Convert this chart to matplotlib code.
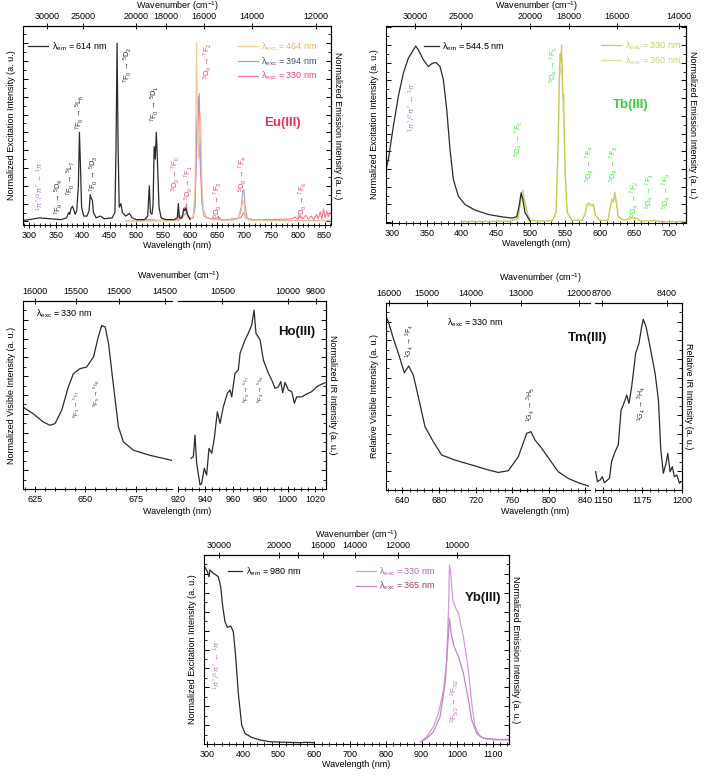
import matplotlib
matplotlib.use('Agg')
import matplotlib.pyplot as plt
import numpy as np
from matplotlib.ticker import MultipleLocator, NullLocator
from matplotlib.lines import Line2D

plt.rcParams['font.family'] = ['Liberation Sans', 'DejaVu Sans']
plt.rcParams['mathtext.fontset'] = 'custom'
plt.rcParams['mathtext.rm'] = 'Liberation Sans'
plt.rcParams['mathtext.it'] = 'Liberation Sans:italic'
plt.rcParams['mathtext.bf'] = 'Liberation Sans:bold'
plt.rcParams['font.size'] = 6.5
plt.rcParams['axes.linewidth'] = 0.8

# ---------------- data (wavelength nm, normalized intensity) ----------------
eu_exc = [(289, 0.005), (300, 0.01), (320, 0.02), (340, 0.015), (360, 0.01), (370, 0.02),
          (374, 0.05), (376, 0.04), (378, 0.07), (381, 0.085), (383, 0.07), (386, 0.04),
          (389, 0.06), (392, 0.2), (394, 0.5), (396, 0.3), (398, 0.08), (402, 0.03),
          (408, 0.03), (412, 0.06), (414, 0.15), (416, 0.13), (418, 0.12), (420, 0.05),
          (425, 0.02), (433, 0.03), (440, 0.015), (455, 0.02), (460, 0.05), (462, 0.4),
          (464, 1.0), (466, 0.4), (468, 0.08), (471, 0.1), (474, 0.05), (480, 0.03),
          (487, 0.045), (492, 0.02), (500, 0.01), (515, 0.01), (521, 0.03), (524, 0.2),
          (526, 0.05), (529, 0.04), (531, 0.1), (533, 0.42), (535, 0.35), (537, 0.5),
          (539, 0.35), (542, 0.08), (546, 0.02), (555, 0.01), (570, 0.01), (576, 0.02),
          (578, 0.1), (580, 0.02), (585, 0.02), (588, 0.07), (590, 0.06), (592, 0.075),
          (595, 0.04), (600, 0.01)]
eu_em464 = [(480, 0.004), (500, 0.004), (540, 0.005), (575, 0.006), (579, 0.02), (581, 0.006),
            (588, 0.03), (591, 0.04), (594, 0.03), (600, 0.01), (606, 0.03), (609, 0.2),
            (611, 0.75), (612, 1.0), (613, 0.7), (615, 0.35), (617, 0.45), (619, 0.6),
            (620, 0.5), (622, 0.2), (625, 0.06), (630, 0.02), (645, 0.008), (650, 0.015),
            (653, 0.008), (660, 0.005), (680, 0.008), (690, 0.02), (695, 0.06), (698, 0.12),
            (700, 0.1), (702, 0.04), (705, 0.02), (712, 0.006), (750, 0.004), (800, 0.004),
            (862, 0.004)]
eu_em394 = [(480, 0.003), (540, 0.004), (578, 0.005), (580, 0.03), (588, 0.03), (592, 0.05),
            (596, 0.02), (605, 0.02), (609, 0.1), (611, 0.35), (613, 0.6), (615, 0.65),
            (617, 0.72), (618, 0.55), (620, 0.3), (623, 0.08), (630, 0.02), (650, 0.01),
            (653, 0.02), (660, 0.006), (690, 0.02), (695, 0.08), (698, 0.17), (700, 0.18),
            (702, 0.09), (706, 0.02), (720, 0.006), (800, 0.005), (862, 0.005)]
eu_em330 = [(500, 0.005), (520, 0.012), (540, 0.006), (560, 0.01), (577, 0.008), (579, 0.05),
            (581, 0.01), (587, 0.04), (589, 0.08), (591, 0.06), (593, 0.1), (595, 0.03),
            (600, 0.015), (606, 0.02), (609, 0.08), (611, 0.3), (613, 0.55), (615, 0.7),
            (617, 0.45), (619, 0.3), (622, 0.1), (626, 0.03), (640, 0.012), (650, 0.02),
            (652, 0.03), (655, 0.01), (680, 0.008), (694, 0.02), (698, 0.04), (700, 0.05),
            (703, 0.02), (710, 0.008), (740, 0.01), (770, 0.012), (790, 0.015), (795, 0.025),
            (800, 0.01), (805, 0.03), (810, 0.015), (815, 0.035), (820, 0.012), (825, 0.03),
            (830, 0.01), (835, 0.04), (838, 0.015), (842, 0.055), (845, 0.012), (848, 0.07),
            (851, 0.02), (854, 0.06), (857, 0.025), (861, 0.05)]

tb_exc = [(290.6, 0.287), (294.4, 0.353), (301.6, 0.54), (308.8, 0.709), (316.1, 0.841),
          (323.3, 0.925), (329.1, 0.962), (334.0, 0.994), (337.8, 0.972), (345.0, 0.916),
          (352.2, 0.878), (358.1, 0.897), (363.4, 0.901), (369.2, 0.878), (374.0, 0.803),
          (378.9, 0.634), (383.6, 0.409), (388.5, 0.24), (395.7, 0.146), (405.4, 0.099),
          (419.8, 0.068), (439.1, 0.043), (458.4, 0.03), (472.9, 0.023), (480.1, 0.03),
          (483.5, 0.09), (486.5, 0.165), (488.8, 0.13), (492.2, 0.053), (499.4, 0.006)]
tb_em330 = [(400, 0.004), (440, 0.004), (470, 0.006), (482, 0.02), (485, 0.1), (487, 0.16),
            (489, 0.18), (491, 0.13), (493, 0.1), (496, 0.04), (500, 0.01), (520, 0.006),
            (532, 0.01), (537, 0.06), (540, 0.45), (542, 0.88), (543, 0.95), (544, 0.9),
            (545, 1.0), (546, 0.85), (547, 0.7), (548, 0.72), (550, 0.3), (553, 0.06),
            (560, 0.01), (575, 0.01), (579, 0.05), (582, 0.1), (584, 0.11), (586, 0.1),
            (589, 0.095), (591, 0.1), (594, 0.04), (600, 0.01), (612, 0.01), (616, 0.1),
            (618, 0.13), (620, 0.12), (622, 0.17), (624, 0.12), (627, 0.03), (635, 0.01),
            (643, 0.02), (646, 0.028), (650, 0.022), (654, 0.022), (658, 0.008), (665, 0.006),
            (668, 0.01), (672, 0.006), (680, 0.01), (684, 0.004), (700, 0.003), (725, 0.003)]
tb_em360 = [(400, 0.003), (440, 0.004), (470, 0.005), (482, 0.018), (485, 0.09), (487, 0.14),
            (489, 0.15), (491, 0.12), (493, 0.09), (496, 0.035), (500, 0.01), (520, 0.006),
            (532, 0.01), (537, 0.05), (540, 0.42), (542, 0.8), (543, 0.88), (544, 0.84),
            (545, 0.93), (546, 0.8), (547, 0.66), (548, 0.6), (550, 0.28), (553, 0.05),
            (560, 0.01), (575, 0.01), (579, 0.045), (582, 0.09), (584, 0.1), (586, 0.095),
            (589, 0.09), (591, 0.095), (594, 0.035), (600, 0.01), (612, 0.01), (616, 0.09),
            (618, 0.12), (620, 0.11), (622, 0.15), (624, 0.11), (627, 0.03), (635, 0.01),
            (643, 0.018), (646, 0.025), (650, 0.02), (654, 0.02), (658, 0.007), (665, 0.005),
            (668, 0.009), (672, 0.005), (680, 0.009), (684, 0.004), (700, 0.003), (725, 0.003)]

ho_vis = [(619.0, 0.436), (624.1, 0.40), (629.1, 0.356), (632.4, 0.339), (634.9, 0.348),
          (638.2, 0.418), (641.5, 0.543), (644.0, 0.613), (647.3, 0.640), (650.6, 0.649),
          (654.0, 0.702), (656.4, 0.809), (658.1, 0.870), (659.8, 0.862), (661.5, 0.773),
          (664.0, 0.543), (666.4, 0.330), (668.9, 0.250), (673.9, 0.206), (682.1, 0.179),
          (693.1, 0.152)]
ho_ir = [(929.5, 0.163), (931.2, 0.172), (932.4, 0.287), (933.6, 0.137), (936.1, 0.021),
         (937.3, 0.03), (939.2, 0.11), (940.9, 0.074), (942.6, 0.216), (944.6, 0.19),
         (946.5, 0.27), (948.7, 0.411), (950.7, 0.349), (953.1, 0.438), (956.0, 0.509),
         (958.0, 0.527), (959.2, 0.49), (961.6, 0.615), (964.0, 0.633), (965.3, 0.722),
         (968.9, 0.793), (971.3, 0.828), (973.8, 0.872), (975.5, 0.952), (976.9, 0.828),
         (979.9, 0.793), (982.3, 0.686), (986.0, 0.615), (988.4, 0.58), (990.8, 0.535),
         (993.2, 0.544), (995.0, 0.571), (996.4, 0.512), (998.1, 0.567), (1000.5, 0.527),
         (1003.0, 0.518), (1004.9, 0.456), (1006.6, 0.49), (1010.3, 0.49), (1013.9, 0.505),
         (1017.6, 0.518), (1021.2, 0.544), (1024.9, 0.558), (1027.3, 0.565)]

tm_vis = [(621.7, 0.93), (624.6, 0.9), (630.0, 0.811), (635.5, 0.731), (642.0, 0.627),
          (646.8, 0.663), (651.8, 0.615), (657.3, 0.499), (664.6, 0.339), (673.7, 0.258),
          (682.9, 0.187), (697.4, 0.16), (715.6, 0.134), (733.8, 0.107), (744.7, 0.094),
          (755.7, 0.103), (766.6, 0.178), (775.8, 0.303), (780.5, 0.312), (784.9, 0.267),
          (792.2, 0.223), (801.2, 0.16), (810.3, 0.098), (821.2, 0.062), (832.2, 0.039),
          (843.1, 0.021)]
tm_ir = [(1145.4, 0.098), (1146.5, 0.045), (1148.2, 0.053), (1149.6, 0.071), (1150.9, 0.039),
         (1154.1, 0.062), (1155.5, 0.152), (1157.7, 0.205), (1159.7, 0.241), (1161.5, 0.428),
         (1162.9, 0.455), (1165.1, 0.508), (1166.5, 0.463), (1168.2, 0.553), (1170.7, 0.731),
         (1172.8, 0.784), (1174.5, 0.873), (1175.5, 0.913), (1177.3, 0.873), (1179.8, 0.766),
         (1183.0, 0.624), (1185.1, 0.481), (1186.6, 0.214), (1188.2, 0.089), (1189.9, 0.143),
         (1191.0, 0.196), (1192.5, 0.098), (1193.9, 0.125), (1195.2, 0.071), (1196.7, 0.08),
         (1198.4, 0.036), (1199.4, 0.045)]

yb_exc = [(291.0, 0.942), (295.7, 0.929), (300.3, 0.912), (305.0, 0.885), (307.8, 0.921),
          (312.5, 0.912), (317.0, 0.903), (324.6, 0.894), (331.0, 0.885), (337.8, 0.832),
          (343.4, 0.727), (349.8, 0.647), (356.3, 0.617), (365.8, 0.624), (373.1, 0.594),
          (379.8, 0.462), (387.1, 0.268), (396.6, 0.1), (405.8, 0.056), (424.6, 0.035),
          (447.9, 0.021), (475.9, 0.012), (522.6, 0.009), (559.9, 0.007), (578.6, 0.009),
          (597.1, 0.007)]
yb_em330 = [(898, 0.012), (914.8, 0.039), (933.5, 0.092), (947.5, 0.162), (961.5, 0.286),
            (970.8, 0.444), (975.5, 0.709), (978.3, 0.947), (982.0, 0.903), (987.6, 0.762),
            (994.1, 0.727), (1003.4, 0.691), (1017.4, 0.568), (1031.4, 0.392), (1040.7, 0.215),
            (1050.0, 0.092), (1064.0, 0.039), (1082.7, 0.026), (1110.7, 0.021), (1143.3, 0.025)]
yb_em365 = [(898, 0.012), (914.8, 0.03), (933.5, 0.065), (952.1, 0.145), (966.1, 0.321),
            (973.6, 0.533), (978.3, 0.665), (982.9, 0.586), (991.3, 0.515), (1003.4, 0.462),
            (1017.4, 0.374), (1031.4, 0.233), (1040.7, 0.127), (1054.6, 0.056), (1073.3, 0.03),
            (1110.7, 0.025), (1143.3, 0.021)]

DARK = '#2b2b2b'
LIGAND = '#b07ac8'


def xy(pairs):
    arr = np.array(pairs, dtype=float)
    return arr[:, 0], arr[:, 1]


def wavenumber(x):
    x = np.asarray(x, dtype=float)
    return 1e7 / np.where(np.abs(x) < 1e-6, 1e-6, x)


def style_x(ax, major, minor):
    ax.xaxis.set_major_locator(MultipleLocator(major))
    ax.xaxis.set_minor_locator(MultipleLocator(minor))
    ax.tick_params(axis='x', which='both', direction='inout', top=False, pad=2)
    ax.tick_params(axis='x', which='major', length=4, width=0.7)
    ax.tick_params(axis='x', which='minor', length=2.5, width=0.6)


def style_y(ax, left=True, right=True):
    ax.yaxis.set_major_locator(MultipleLocator(0.1))
    ax.yaxis.set_minor_locator(MultipleLocator(0.05))
    ax.tick_params(axis='y', which='both', direction='in', left=left, right=right,
                   labelleft=False, labelright=False)
    ax.tick_params(axis='y', which='major', length=3.5, width=0.7)
    ax.tick_params(axis='y', which='minor', length=2, width=0.6)


def add_top(ax, ticks, labels=None):
    sec = ax.secondary_xaxis('top', functions=(wavenumber, wavenumber))
    sec.set_xticks(ticks)
    if labels is None:
        labels = [str(t) for t in ticks]
    sec.set_xticklabels(labels)
    sec.xaxis.set_minor_locator(NullLocator())
    sec.tick_params(direction='inout', length=4, width=0.7, pad=1.5)
    return sec


def right_label(ax, text, pad=8):
    sec = ax.secondary_yaxis('right')
    sec.set_yticks([])
    sec.set_ylabel(text, rotation=270, labelpad=pad)
    return sec


def note(ax, x, y, s, color, size=5.5):
    ax.text(x, y, s, rotation=90, ha='center', va='center', fontsize=size, color=color)


def px(l, t, r, b):
    return [l / 709, 1 - b / 781, (r - l) / 709, (b - t) / 781]


fig = plt.figure(figsize=(7.09, 7.81), dpi=100)

# ---------------- Eu(III) ----------------
ax = fig.add_axes(px(23, 26, 331, 225))
EU_OR, EU_PU, EU_PK = '#f5c88e', '#a89cc6', '#f27a98'
ax.plot(*xy(eu_em330), color=EU_PK, lw=0.8)
ax.plot(*xy(eu_em394), color=EU_PU, lw=0.8)
ax.plot(*xy(eu_em464), color=EU_OR, lw=0.8)
ax.plot(*xy(eu_exc), color=DARK, lw=0.9)
ax.set_xlim(289, 862)
ax.set_ylim(-0.02, 1.097)
style_x(ax, 50, 10)
style_y(ax)
ax.set_xlabel('Wavelength (nm)', labelpad=1)
ax.set_ylabel('Normalized Excitation Intensity (a. u.)', labelpad=5)
right_label(ax, 'Normalized Emission Intensity (a. u.)')
sec = add_top(ax, [30000, 25000, 20000, 18000, 16000, 14000, 12000])
sec.set_xlabel('Wavenumber (cm$^{-1}$)', labelpad=2)
leg = ax.legend(handles=[Line2D([], [], color=c, lw=0.9) for c in (EU_OR, EU_PU, EU_PK)],
                labels=['λ$_{\\rm exc}$ = 464 nm', 'λ$_{\\rm exc}$ = 394 nm', 'λ$_{\\rm exc}$ = 330 nm'],
                labelcolor=['#f0b45a', '#4a4f6a', '#ee3e6c'],
                loc='upper left', bbox_to_anchor=(0.68, 0.955), frameon=False, handlelength=2.2,
                handletextpad=0.4, labelspacing=0.25, borderaxespad=0.2, fontsize=6.5)
ax.legend(handles=[Line2D([], [], color=DARK, lw=0.9)],
          labels=['λ$_{\\rm em}$ = 614 nm'], loc='upper left', bbox_to_anchor=(0.0, 0.955),
          frameon=False, handlelength=2.2, handletextpad=0.4, borderaxespad=0.2, fontsize=6.5)
ax.add_artist(leg)
note(ax, 321, 0.20, r'$^1\pi^*/^3\pi^*$ ← $^1\pi$', LIGAND)
note(ax, 355, 0.14, r'$^7$F$_0$ → $^5$D$_4$', DARK)
note(ax, 378, 0.24, r'$^7$F$_0$ → $^5$L$_7$', DARK)
note(ax, 394, 0.61, r'$^7$F$_0$ → $^5$L$_6$', DARK)
note(ax, 420, 0.27, r'$^7$F$_0$ → $^5$D$_3$', DARK)
note(ax, 483, 0.88, r'$^7$F$_0$ → $^5$D$_2$', DARK)
note(ax, 534, 0.66, r'$^7$F$_0$ → $^5$D$_1$', DARK)
EU_TXT = '#f03c6a'
note(ax, 574, 0.27, r'$^5$D$_0$ → $^7$F$_0$', EU_TXT, size=5.2)
note(ax, 598, 0.22, r'$^5$D$_0$ → $^7$F$_1$', EU_TXT, size=5.2)
note(ax, 632, 0.90, r'$^5$D$_0$ → $^7$F$_2$', EU_TXT)
note(ax, 651, 0.12, r'$^5$D$_0$ → $^7$F$_3$', EU_TXT)
note(ax, 698, 0.27, r'$^5$D$_0$ → $^7$F$_4$', EU_TXT)
note(ax, 810, 0.12, r'$^5$D$_0$ → $^7$F$_6$', EU_TXT)
ax.text(772, 0.55, 'Eu(III)', ha='center', va='center', fontsize=9.5, fontweight='bold', color='#ee2e58')

# ---------------- Tb(III) ----------------
ax = fig.add_axes(px(386, 26, 686, 223))
TB_A, TB_B = '#c9cc5a', '#dfe09a'
ax.plot(*xy(tb_em360), color=TB_B, lw=0.9)
ax.plot(*xy(tb_em330), color=TB_A, lw=0.9)
ax.plot(*xy(tb_exc), color=DARK, lw=0.9)
ax.set_xlim(291, 725)
ax.set_ylim(-0.005, 1.107)
style_x(ax, 50, 10)
style_y(ax)
ax.set_xlabel('Wavelength (nm)', labelpad=1)
ax.set_ylabel('Normalized Excitation Intensity (a. u.)', labelpad=5)
right_label(ax, 'Normalized Emission Intensity (a. u.)')
sec = add_top(ax, [30000, 25000, 20000, 18000, 16000, 14000])
sec.set_xlabel('Wavenumber (cm$^{-1}$)', labelpad=2)
leg = ax.legend(handles=[Line2D([], [], color=c, lw=0.9) for c in (TB_A, TB_B)],
                labels=['λ$_{\\rm exc}$ = 330 nm', 'λ$_{\\rm exc}$ = 360 nm'],
                labelcolor=['#b9d25a', '#c6d878'],
                loc='upper left', bbox_to_anchor=(0.70, 0.96), frameon=False, handlelength=2.2,
                handletextpad=0.4, labelspacing=0.25, borderaxespad=0.2, fontsize=6.5)
ax.legend(handles=[Line2D([], [], color=DARK, lw=0.9)],
          labels=['λ$_{\\rm em}$ = 544.5 nm'], loc='upper left', bbox_to_anchor=(0.11, 0.955),
          frameon=False, handlelength=1.6, handletextpad=0.4, borderaxespad=0.2, fontsize=6.5)
ax.add_artist(leg)
TB_TXT = '#3ee83e'
note(ax, 329, 0.65, r'$^1\pi^*/^3\pi^*$ ← $^1\pi$', LIGAND)
note(ax, 483, 0.47, r'$^5$D$_4$ → $^7$F$_6$', TB_TXT)
note(ax, 533, 0.89, r'$^5$D$_4$ → $^7$F$_5$', TB_TXT)
note(ax, 586, 0.33, r'$^5$D$_4$ → $^7$F$_4$', TB_TXT)
note(ax, 620, 0.33, r'$^5$D$_4$ → $^7$F$_3$', TB_TXT)
note(ax, 651, 0.13, r'$^5$D$_4$ → $^7$F$_2$', TB_TXT)
note(ax, 673, 0.18, r'$^5$D$_4$ → $^7$F$_1$', TB_TXT)
note(ax, 697, 0.18, r'$^5$D$_4$ → $^7$F$_0$', TB_TXT)
ax.text(645, 0.66, 'Tb(III)', ha='center', va='center', fontsize=9.5, fontweight='bold', color='#2fd42f')

# ---------------- Ho(III) (broken axis) ----------------
axl = fig.add_axes(px(23, 301, 172, 489))
axr = fig.add_axes(px(178, 301, 326, 489))
axl.plot(*xy(ho_vis), color=DARK, lw=0.9)
axr.plot(*xy(ho_ir), color=DARK, lw=0.9)
axl.set_xlim(619, 693)
axr.set_xlim(920, 1028)
for a in (axl, axr):
    a.set_ylim(0, 1)
axl.spines['right'].set_visible(False)
axr.spines['left'].set_visible(False)
style_x(axl, 25, 5)
style_x(axr, 20, 5)
style_y(axl, left=True, right=False)
style_y(axr, left=False, right=True)
axl.set_ylabel('Normalized Visible Intensity (a. u.)', labelpad=5)
right_label(axr, 'Normalized IR Intensity (a. u.)')
add_top(axl, [16000, 15500, 15000, 14500])
add_top(axr, [10500, 10000, 9800])
fig.text(178 / 709, 1 - 276 / 781, 'Wavenumber (cm$^{-1}$)', ha='center', va='center')
fig.text(177 / 709, 1 - 511 / 781, 'Wavelength (nm)', ha='center', va='center')
axl.text(0.09, 0.93, 'λ$_{\\rm exc}$ = 330 nm', transform=axl.transAxes, ha='left', va='center')
note(axl, 646, 0.45, r'$^5$F$_3$ → $^5$I$_7$', '#444444', size=4.5)
note(axl, 655.6, 0.51, r'$^5$F$_5$ → $^5$I$_8$', '#444444', size=4.5)
note(axr, 970.6, 0.53, r'$^5$F$_5$ → $^5$I$_7$', '#444444', size=4.5)
note(axr, 980.3, 0.53, r'$^5$F$_4$ → $^5$I$_6$', '#444444', size=4.5)
axr.text(1006.6, 0.835, 'Ho(III)', ha='center', va='center', fontsize=9.5, fontweight='bold', color='#111111')

# ---------------- Tm(III) (broken axis) ----------------
axl = fig.add_axes(px(386, 303, 590, 490))
axr = fig.add_axes(px(595, 303, 682, 490))
axl.plot(*xy(tm_vis), color=DARK, lw=0.9)
axr.plot(*xy(tm_ir), color=DARK, lw=0.9)
axl.set_xlim(622, 845)
axr.set_xlim(1145, 1200)
for a in (axl, axr):
    a.set_ylim(0, 1)
axl.spines['right'].set_visible(False)
axr.spines['left'].set_visible(False)
style_x(axl, 40, 8)
style_x(axr, 25, 5)
style_y(axl, left=True, right=False)
style_y(axr, left=False, right=True)
axl.set_ylabel('Relative Visible Intensity (a. u.)', labelpad=5)
right_label(axr, 'Relative IR Intensity (a. u.)')
add_top(axl, [16000, 15000, 14000, 13000, 12000])
add_top(axr, [8700, 8400])
fig.text(540 / 709, 1 - 278 / 781, 'Wavenumber (cm$^{-1}$)', ha='center', va='center')
fig.text(535 / 709, 1 - 512 / 781, 'Wavelength (nm)', ha='center', va='center')
axl.text(0.30, 0.893, 'λ$_{\\rm exc}$ = 330 nm', transform=axl.transAxes, ha='left', va='center')
note(axl, 648.2, 0.80, r'$^1$G$_4$ → $^3$F$_4$', '#333333', size=5)
note(axl, 780.1, 0.455, r'$^1$G$_4$ → $^3$H$_5$', '#333333', size=5)
note(axr, 1174.5, 0.46, r'$^1$G$_4$ → $^3$H$_4$', '#333333', size=5)
fig.text(588 / 709, 1 - 338 / 781, 'Tm(III)', ha='center', va='center', fontsize=9.5,
         fontweight='bold', color='#111111')

# ---------------- Yb(III) ----------------
ax = fig.add_axes(px(204, 555, 509, 744))
YB_A, YB_B = '#cf9ed3', '#c384c6'
ax.plot(*xy(yb_em330), color=YB_A, lw=0.9)
ax.plot(*xy(yb_em365), color=YB_B, lw=0.9)
ax.plot(*xy(yb_exc), color=DARK, lw=0.9)
ax.set_xlim(291, 1145)
ax.set_ylim(0, 1)
style_x(ax, 100, 20)
style_y(ax)
ax.set_xlabel('Wavelength (nm)', labelpad=1)
ax.set_ylabel('Normalized Excitation Intensity (a. u.)', labelpad=5)
right_label(ax, 'Normalized Emission Intensity (a. u.)')
sec = add_top(ax, [30000, 20000, 18000, 16000, 14000, 12000, 10000],
              ['30000', '20000', '', '16000', '14000', '12000', '10000'])
sec.set_xlabel('Wavenumber (cm$^{-1}$)', labelpad=2)
leg = ax.legend(handles=[Line2D([], [], color=c, lw=0.9) for c in (YB_A, YB_B)],
                labels=['λ$_{\\rm exc}$ = 330 nm', 'λ$_{\\rm exc}$ = 365 nm'],
                labelcolor=['#b060b4', '#9a3a6a'],
                loc='upper left', bbox_to_anchor=(0.48, 0.975), frameon=False, handlelength=2.2,
                handletextpad=0.4, labelspacing=0.25, borderaxespad=0.2, fontsize=6.5)
ax.legend(handles=[Line2D([], [], color=DARK, lw=0.9)],
          labels=['λ$_{\\rm em}$ = 980 nm'], loc='upper left', bbox_to_anchor=(0.06, 0.975),
          frameon=False, handlelength=1.6, handletextpad=0.4, borderaxespad=0.2, fontsize=6.5)
ax.add_artist(leg)
note(ax, 327, 0.42, r'$^1\pi^*/^3\pi^*$ ← $^1\pi$', LIGAND)
note(ax, 994, 0.23, r'$^2$F$_{5/2}$ → $^2$F$_{7/2}$', '#b070b4')
ax.text(1073, 0.77, 'Yb(III)', ha='center', va='center', fontsize=9.5, fontweight='bold', color='#111111')

fig.savefig('out.png', dpi=100)
